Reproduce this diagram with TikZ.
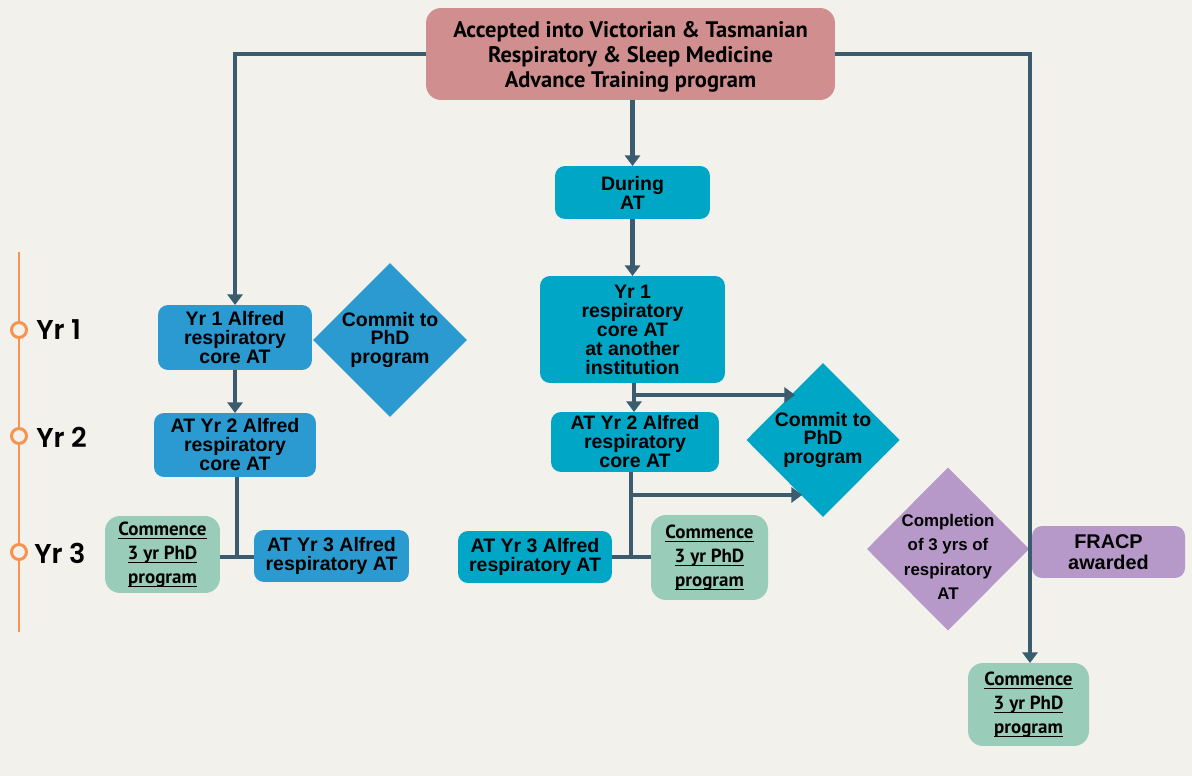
\documentclass[tikz,border=0pt]{standalone}
\usepackage{fontspec}
\setmainfont{Liberation Sans}
\newfontfamily\barlow{PT Sans}
\IfFontExistsTF{Poppins SemiBold}{\newfontfamily\yrfont{Poppins SemiBold}}{%
  \IfFontExistsTF{Poppins Medium}{\newfontfamily\yrfont[FakeBold=1.5]{Poppins Medium}}{%
    \newfontfamily\yrfont[FakeBold=3]{Poppins}}}
\usetikzlibrary{arrows.meta,shapes.geometric}
\definecolor{bg}{HTML}{F2F1EC}
\definecolor{topc}{HTML}{D08F8E}
\definecolor{teal}{HTML}{00A6C6}
\definecolor{blu}{HTML}{2A9AD1}
\definecolor{mint}{HTML}{99CDB9}
\definecolor{purp}{HTML}{B699C8}
\definecolor{linec}{HTML}{3B5B6E}
\definecolor{orng}{HTML}{F8934F}
\newcommand\ulx[1]{\underline{\raisebox{0pt}[\height][0pt]{#1}}}
\tikzset{
  box/.style={rectangle, rounded corners=0.2cm, inner sep=0pt, outer sep=0pt, align=center,
    font={\fontsize{11.1}{10.8}\selectfont\bfseries}},
  tealbox/.style={box, fill=teal},
  bluebox/.style={box, fill=blu},
  mintbox/.style={box, fill=mint, rounded corners=0.3cm,
    font={\barlow\fontsize{10.8}{13.6}\selectfont\bfseries}},
  dia/.style={diamond, inner sep=0pt, outer sep=0pt},
  dtext/.style={align=center, inner sep=0pt, font={\fontsize{11.1}{10.8}\selectfont\bfseries}},
  conn/.style={draw=linec, line width=2.3pt, -{Triangle[length=6pt,width=8.5pt]}},
  plain/.style={draw=linec, line width=2.3pt},
  tick/.style={circle, draw=orng, fill=bg, line width=1.7pt, minimum size=0.3cm, inner sep=0pt},
  yrlab/.style={anchor=west, inner sep=0pt, font={\yrfont\fontsize{15.5}{16}\selectfont}},
}
\begin{document}
\begin{tikzpicture}[x=0.02cm,y=-0.02cm]
\fill[bg] (0,0) rectangle (1192,776);
\useasboundingbox (0,0) rectangle (1192,776);

% timeline
\draw[orng, line width=1.7pt] (19,252) -- (19,632);
\node[tick] (t1) at (19,330) {};
\node[tick] (t2) at (19,436) {};
\node[tick] (t3) at (19,552) {};
\node[yrlab] (l1) at (36,330) {Yr 1};
\node[yrlab] (l2) at (36,437) {Yr 2};
\node[yrlab] (l3) at (34,553) {Yr 3};

% top
\node[box, fill=topc, rounded corners=0.3cm, minimum width=8.18cm, minimum height=1.84cm] (top) at (630.5,54) {};
\node[align=center, inner sep=0pt, font={\barlow\fontsize{12.8}{14.2}\selectfont\bfseries}] (topt) at (630.5,57)
  {Accepted into Victorian \& Tasmanian\\Respiratory \& Sleep Medicine\\Advance Training program};

% middle column
\node[tealbox, minimum width=3.1cm, minimum height=1.06cm] (during) at (632.5,192.5) {During\\AT};
\node[tealbox, minimum width=3.7cm, minimum height=2.14cm] (yr1o) at (632.5,329.5)
  {Yr 1\\respiratory\\core AT\\at another\\institution};
\node[tealbox, minimum width=3.36cm, minimum height=1.2cm] (yr2o) at (635,442)
  {AT Yr 2 Alfred\\respiratory\\core AT};
\node[tealbox, minimum width=3.08cm, minimum height=1.04cm] (yr3o) at (535,557)
  {AT Yr 3 Alfred\\respiratory AT};
\node[mintbox, minimum width=2.34cm, minimum height=1.7cm] (cm) at (709.5,557.5)
  {\ulx{Commence}\\\ulx{3 yr PhD}\\\ulx{program}};
\node[dia, fill=teal, minimum width=3.06cm, minimum height=3.08cm] (d2) at (823,440) {};
\node[dtext] (d2t) at (823,440) {Commit to\\PhD\\program};

% left column
\node[bluebox, minimum width=3.08cm, minimum height=1.3cm] (yr1a) at (235,337.5)
  {Yr 1 Alfred\\respiratory\\core AT};
\node[bluebox, minimum width=3.24cm, minimum height=1.28cm] (yr2a) at (235,445)
  {AT Yr 2 Alfred\\respiratory\\core AT};
\node[bluebox, minimum width=3.1cm, minimum height=1.04cm] (yr3a) at (331.5,556)
  {AT Yr 3 Alfred\\respiratory AT};
\node[mintbox, minimum width=2.3cm, minimum height=1.54cm] (cl) at (162.5,554.5)
  {\ulx{Commence}\\\ulx{3 yr PhD}\\\ulx{program}};
\node[dia, fill=blu, minimum width=3.08cm, minimum height=3.08cm] (d1) at (390,340) {};
\node[dtext] (d1t) at (390,340) {Commit to\\PhD\\program};

% right
\node[dia, fill=purp, minimum width=3.24cm, minimum height=3.26cm] (d3) at (948,549) {};
\node[dtext, font={\fontsize{9.6}{13.8}\selectfont\bfseries}] (d3t) at (948,557)
  {Completion\\of 3 yrs of\\respiratory\\AT};
\node[box, fill=purp, minimum width=3.06cm, minimum height=1.04cm,
  font={\fontsize{11.3}{12}\selectfont\bfseries}] (fr) at (1108.5,552) {FRACP\\awarded};
\node[mintbox, minimum width=2.42cm, minimum height=1.66cm] (cr) at (1028.5,704.5)
  {\ulx{Commence}\\\ulx{3 yr PhD}\\\ulx{program}};

% connectors
\draw[conn] (top.west) -| (yr1a.north);
\draw[conn] (top.east) -- (1030,54) -- (cr.north -| 1030,0);
\draw[conn] (top.south -| during.north) -- (during.north);
\draw[conn] (during.south) -- (yr1o.north);
\draw[conn] (yr1o.south -| 634,0) -- (yr2o.north -| 634,0);
\coordinate (b1) at (634,395);
\coordinate (e1) at (795,395);
\draw[conn] (b1) -- (e1);
\coordinate (b2) at (631,495);
\coordinate (e2) at (802,495);
\draw[conn] (b2) -- (e2);
\coordinate (j2) at (631,557);
\draw[plain] (yr2o.south -| j2) -- (j2);
\draw[plain] (yr3o.east) -- (cm.west |- yr3o.east);
\draw[conn] (yr1a.south) -- (yr2a.north);
\coordinate (j1) at (237,557);
\draw[plain] (yr2a.south -| j1) -- (j1);
\draw[plain] (cl.east |- j1) -- (yr3a.west |- j1);
\end{tikzpicture}
\end{document}
